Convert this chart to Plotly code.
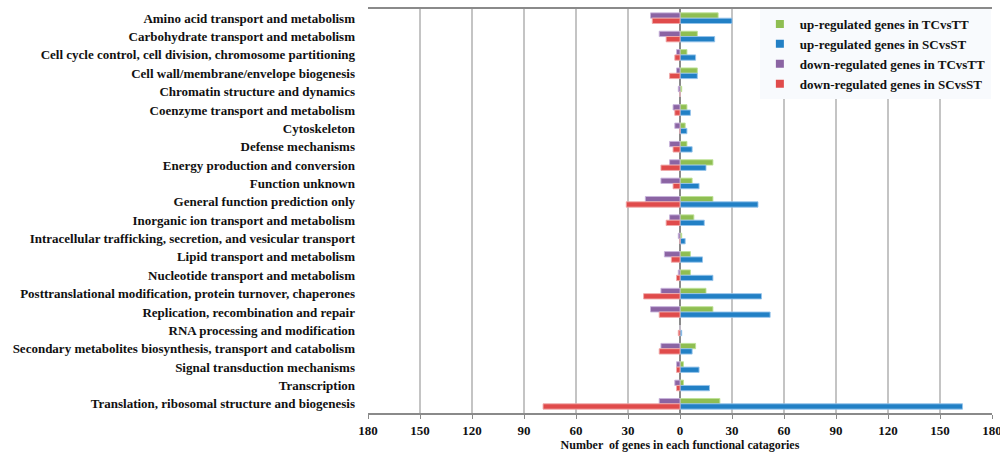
import plotly.graph_objects as go

categories = [
    "Amino acid transport and metabolism",
    "Carbohydrate transport and metabolism",
    "Cell cycle control, cell division, chromosome partitioning",
    "Cell wall/membrane/envelope biogenesis",
    "Chromatin structure and dynamics",
    "Coenzyme transport and metabolism",
    "Cytoskeleton",
    "Defense mechanisms",
    "Energy production and conversion",
    "Function unknown",
    "General function prediction only",
    "Inorganic ion transport and metabolism",
    "Intracellular trafficking, secretion, and vesicular transport",
    "Lipid transport and metabolism",
    "Nucleotide transport and metabolism",
    "Posttranslational modification, protein turnover, chaperones",
    "Replication, recombination and repair",
    "RNA processing and modification",
    "Secondary metabolites biosynthesis, transport and catabolism",
    "Signal transduction mechanisms",
    "Transcription",
    "Translation, ribosomal structure and biogenesis",
]

up_tc = [22, 10, 4, 10, 1, 4, 3, 4, 19, 7, 19, 8, 1, 6, 6, 15, 19, 0, 9, 2, 2, 23]
up_sc = [30, 20, 9, 10, 0, 6, 4, 7, 15, 11, 45, 14, 3, 13, 19, 47, 52, 1, 7, 11, 17, 163]
down_tc = [-17, -12, -2, -2, -1, -4, -3, -6, -6, -11, -20, -6, -1, -9, -1, -11, -17, 0, -11, -2, -3, -12]
down_sc = [-16, -8, -3, -6, 0, -3, 0, -4, -11, -4, -31, -8, 0, -5, -2, -21, -12, -1, -12, -2, -2, -79]

tick_vals = [-180, -150, -120, -90, -60, -30, 0, 30, 60, 90, 120, 150, 180]
tick_text = ["180", "150", "120", "90", "60", "30", "0", "30", "60", "90", "120", "150", "180"]

GREEN = "#8fbe52"
BLUE = "#2280c5"
PURPLE = "#8b64a3"
RED = "#e04b4b"

W = 0.29
font_family = "Liberation Serif"

fig = go.Figure()

def add(name, vals, color, line, offset):
    fig.add_trace(go.Bar(
        name=name, y=categories, x=vals, orientation="h",
        width=W, offset=offset, showlegend=False, legendgroup=name,
        marker=dict(color=color, line=dict(color=line, width=1)),
        hoverinfo="skip",
    ))
    # small square legend key
    fig.add_trace(go.Scatter(
        name=name, x=[None], y=[None], mode="markers", legendgroup=name,
        marker=dict(symbol="square", size=8, color=color),
        showlegend=True, hoverinfo="skip",
    ))

add("up-regulated genes in TCvsTT", up_tc, GREEN, "rgba(190,225,150,0.9)", -W)
add("up-regulated genes in SCvsST", up_sc, BLUE, "rgba(150,195,235,0.9)", 0)
add("down-regulated genes in TCvsTT", down_tc, PURPLE, "rgba(200,180,220,0.9)", -W)
add("down-regulated genes in SCvsST", down_sc, RED, "rgba(240,170,170,0.9)", 0)

fig.update_layout(
    width=1000, height=455,
    margin=dict(l=368, r=8, t=9, b=42, autoexpand=False),
    barmode="overlay",
    hovermode=False,
    plot_bgcolor="white", paper_bgcolor="white",
    font=dict(family=font_family, size=12, color="#111111"),
    showlegend=True,
    legend=dict(
        x=0.628, y=1.0, xanchor="left", yanchor="top",
        bgcolor="#f8fafd", borderwidth=0,
        font=dict(family=font_family, size=13, color="#111111", weight="bold"),
        traceorder="normal", itemwidth=30, tracegroupgap=0,
    ),
    xaxis=dict(
        range=[-180, 180], tickvals=tick_vals, ticktext=tick_text,
        automargin=False, ticklabeloverflow="allow",
        showgrid=True, gridcolor="#c4c4c4", gridwidth=2,
        zeroline=True, zerolinecolor="#8a8a8a", zerolinewidth=2,
        showline=True, linecolor="#8a8a8a", linewidth=2, mirror=True,
        ticks="outside", ticklen=4, tickcolor="#8a8a8a",
        tickfont=dict(family=font_family, size=13, weight="bold"),
        title=dict(text="Number  of genes in each functional catagories",
                   font=dict(family=font_family, size=12, weight="bold"), standoff=2),
    ),
    yaxis=dict(
        autorange="reversed", showgrid=False, showline=False,
        automargin=False,
        ticks="", ticklabelstandoff=12,
        tickfont=dict(family=font_family, size=13, weight="bold"),
    ),
)

# remove the default page margin so the 1000x455 figure fills the window exactly
fig.write_html(
    "out.html",
    config={"displayModeBar": False, "staticPlot": True},
    post_script="document.body.style.margin='0';document.body.style.overflow='hidden';",
)
